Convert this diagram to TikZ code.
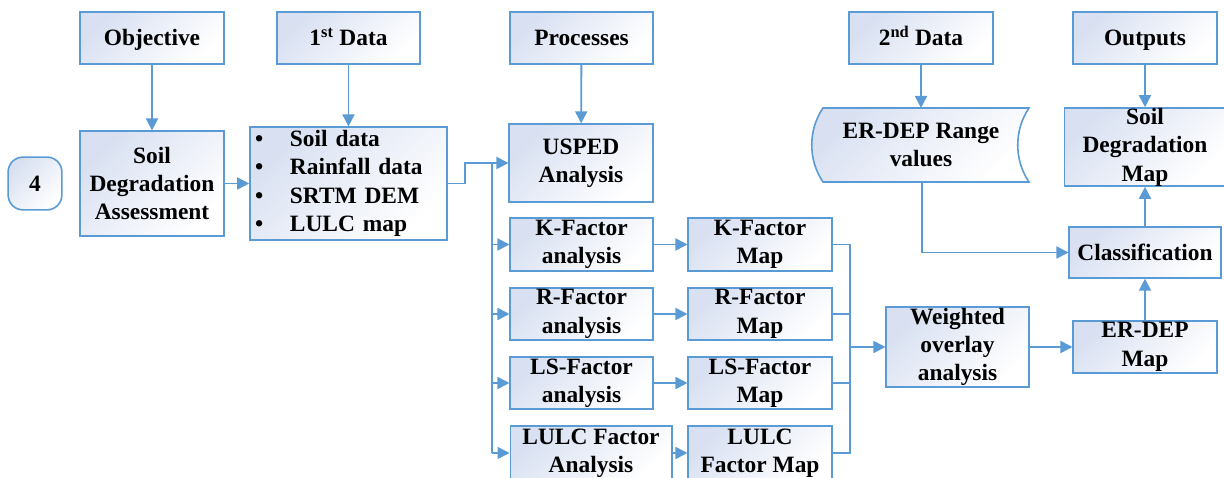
\documentclass[tikz,border=0pt]{standalone}
\usepackage{fontspec}
\setmainfont{Liberation Serif}
\usetikzlibrary{arrows.meta}
\definecolor{ln}{RGB}{91,155,213}
\definecolor{fl}{RGB}{216,224,241}
\begin{document}
\begin{tikzpicture}[x=1bp,y=-1bp,
  txt/.style={font=\fontsize{23.5}{28.5}\selectfont\bfseries, align=center, inner sep=0pt},
  box/.style={txt, draw=ln, line width=1.6bp, top color=fl, bottom color=white, shading angle=45},
  one/.style={text height=16bp, text depth=0bp},
  conn/.style={draw=ln, line width=1.8bp},
  arr/.style={conn, -{Triangle[length=12bp,width=12bp]}}]
\clip (0,0) rectangle (1224,478);
\fill[white] (0,0) rectangle (1224,478);
% top row
\node[box, one, minimum width=144, minimum height=52] (obj) at (152,38) {Objective};
\node[box, one, minimum width=143, minimum height=52] (d1) at (348.5,38) {1\smash{\textsuperscript{st}} Data};
\node[box, one, minimum width=143, minimum height=52] (proc) at (581.5,38) {Processes};
\node[box, one, minimum width=144, minimum height=52] (d2) at (921,38) {2\smash{\textsuperscript{nd}} Data};
\node[box, one, minimum width=144, minimum height=52] (outp) at (1145,38) {Outputs};
% left
\node[box, one, rounded corners=15bp, minimum width=54, minimum height=53] (four) at (35,183.5) {4};
\node[box, minimum width=144, minimum height=105] (sda) at (152,183.5) {Soil\\Degradation\\Assessment};
\node[box, minimum width=197, minimum height=113, text width=187bp, align=left, inner xsep=5bp] (bul) at (348.5,183.5)
  {\makebox[35bp][l]{\textbullet}Soil data\\
   \makebox[35bp][l]{\textbullet}Rainfall data\\
   \makebox[35bp][l]{\textbullet}SRTM DEM\\
   \makebox[35bp][l]{\textbullet}LULC map};
% processes column
\node[box, minimum width=144, minimum height=78] (usped) at (581,163) {USPED\\Analysis};
\node[box, minimum width=143, minimum height=53] (ka) at (581.5,244.5) {K-Factor\\analysis};
\node[box, minimum width=143, minimum height=52] (ra) at (581.5,314) {R-Factor\\analysis};
\node[box, minimum width=143, minimum height=52] (lsa) at (581.5,383) {LS-Factor\\analysis};
\node[box, minimum width=162, minimum height=54] (lula) at (591,453) {LULC Factor\\Analysis};
% maps column
\node[box, minimum width=144, minimum height=53] (km) at (760,244.5) {K-Factor\\Map};
\node[box, minimum width=144, minimum height=52] (rm) at (760,314) {R-Factor\\Map};
\node[box, minimum width=144, minimum height=52] (lsm) at (760,383) {LS-Factor\\Map};
\node[box, minimum width=144, minimum height=54] (lulm) at (760,453) {LULC\\Factor Map};
% right part
\node[box, minimum width=143, minimum height=80] (wo) at (957.5,347) {Weighted\\overlay\\analysis};
\node[box, minimum width=144, minimum height=52] (erm) at (1145,347) {ER-DEP\\Map};
\node[box, one, minimum width=152, minimum height=51] (cls) at (1145,252.5) {Classification};
\node[box, minimum width=162, minimum height=78] (sdm) at (1145,147) {Soil\\Degradation\\Map};
% stored data shape
\path[draw=ln, line width=1.6bp, top color=fl, bottom color=white, shading angle=45]
  (823,108) -- (1029,108) .. controls (1014,130) and (1014,160) .. (1029,182)
  -- (823,182) .. controls (808,160) and (808,130) .. (823,108) -- cycle;
\node[txt, minimum width=216, minimum height=74] (erv) at (921,145) {ER-DEP Range\\values};
% connectors
\draw[arr] (obj) -- (sda);
\draw[arr] (d1.south) -- (d1.south |- bul.north);
\draw[arr] (proc) -- (usped);
\draw[arr] (d2) -- (erv);
\draw[arr] (outp) -- (sdm);
\draw[arr] (sda) -- (bul);
\coordinate (j1) at (465,183.5);
\coordinate (j2) at (465,163);
\coordinate (t0) at (492,163);
\coordinate (t4) at (492,453);
\draw[conn] (bul.east) -- (j1) -- (j2) -- (t0);
\draw[arr] (t0) -- (usped.west);
\draw[conn] (t0) -- (t4);
\draw[arr] (t0 |- ka.west) -- (ka.west);
\draw[arr] (t0 |- ra.west) -- (ra.west);
\draw[arr] (t0 |- lsa.west) -- (lsa.west);
\draw[arr] (t4) -- (lula.west);
\draw[arr] (ka) -- (km);
\draw[arr] (ra) -- (rm);
\draw[arr] (lsa) -- (lsm);
\draw[arr] (lula) -- (lulm);
\coordinate (b0) at (850,244.5);
\coordinate (b4) at (850,453);
\draw[conn] (km.east) -- (b0) -- (b4) -- (lulm.east);
\draw[conn] (rm.east) -- (rm.east -| b0);
\draw[conn] (lsm.east) -- (lsm.east -| b0);
\draw[arr] (b0 |- wo.west) -- (wo.west);
\draw[arr] (wo) -- (erm);
\draw[arr] (erm) -- (cls);
\draw[arr] (cls) -- (sdm);
\coordinate (e1) at (922,252.5);
\draw[arr] (erv.south -| e1) -- (e1) -- (cls.west);
\end{tikzpicture}
\end{document}
